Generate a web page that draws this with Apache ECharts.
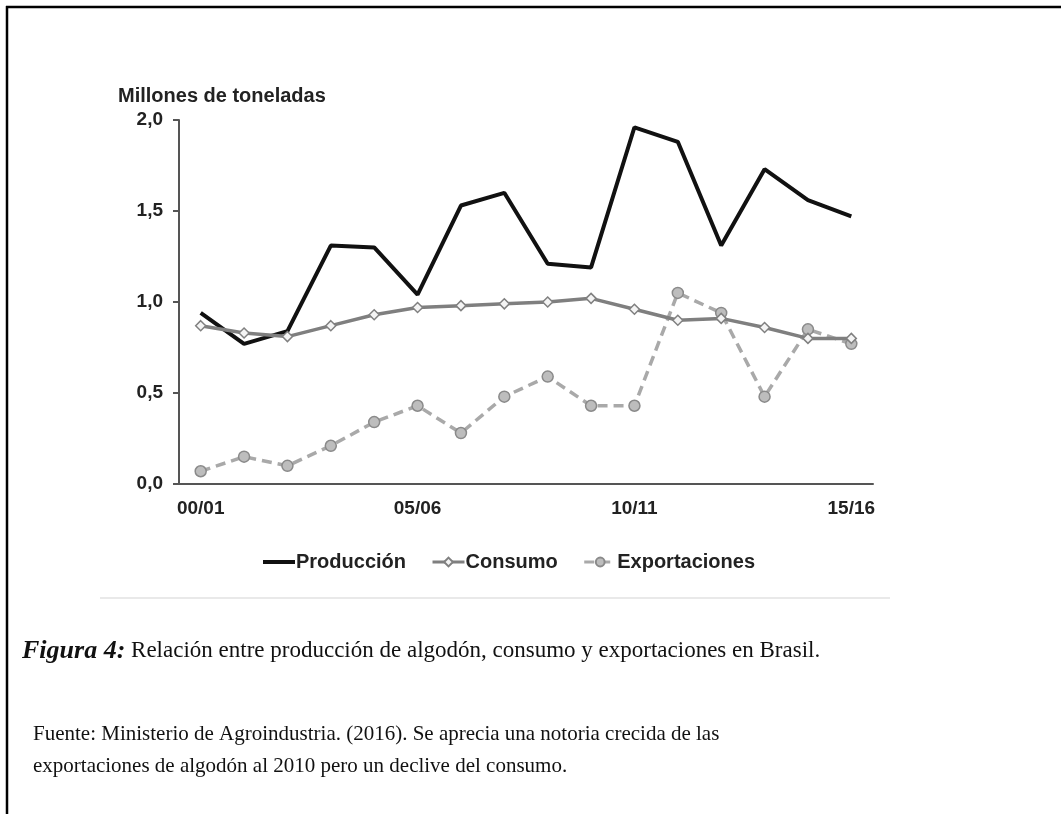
<!DOCTYPE html>
<html>
<head>
<meta charset="utf-8">
<script src="https://cdn.jsdelivr.net/npm/echarts@6/dist/echarts.min.js"></script>
<style>
  html, body { margin: 0; padding: 0; background: #fff; }
  #main { width: 1061px; height: 814px; }
</style>
</head>
<body>
<div id="main"></div>
<script>
// campañas 00/01 ... 15/16
const temporadas = ['00/01', '01/02', '02/03', '03/04', '04/05', '05/06', '06/07', '07/08',
  '08/09', '09/10', '10/11', '11/12', '12/13', '13/14', '14/15', '15/16'];
const produccion = [0.94, 0.77, 0.84, 1.31, 1.30, 1.04, 1.53, 1.60, 1.21, 1.19, 1.96, 1.88, 1.31, 1.73, 1.56, 1.47];
const consumo = [0.87, 0.83, 0.81, 0.87, 0.93, 0.97, 0.98, 0.99, 1.00, 1.02, 0.96, 0.90, 0.91, 0.86, 0.80, 0.80];
const exportaciones = [0.07, 0.15, 0.10, 0.21, 0.34, 0.43, 0.28, 0.48, 0.59, 0.43, 0.43, 1.05, 0.94, 0.48, 0.85, 0.77];
const yTicks = [0, 0.5, 1.0, 1.5, 2.0];

const chart = echarts.init(document.getElementById('main'));

const sans = 'Arial, "Liberation Sans", sans-serif';
const serif = '"Times New Roman", "Liberation Serif", serif';

const option = {
  animation: false,
  backgroundColor: '#fff',
  title: {
    text: 'Millones de toneladas',
    left: 113,
    top: 81,
    textStyle: { fontFamily: sans, fontSize: 20, fontWeight: 'bold', color: '#222' }
  },
  legend: {
    left: 256,
    top: 547,
    itemWidth: 32,
    itemHeight: 11,
    itemGap: 25,
    textStyle: { fontFamily: sans, fontSize: 20, fontWeight: 'bold', color: '#222', padding: [0, 0, 0, -4] },
    data: [
      // la línea de producción no lleva marcador
      { name: 'Producción', itemStyle: { opacity: 0 }, lineStyle: { width: 4 } },
      { name: 'Consumo', lineStyle: { width: 3 } },
      { name: 'Exportaciones', lineStyle: { width: 3 } }
    ]
  },
  grid: { left: 179, right: 188, top: 120, bottom: 330 },
  xAxis: {
    type: 'category',
    data: temporadas,
    boundaryGap: true,
    axisLine: { lineStyle: { color: '#555', width: 2 } },
    axisTick: { interval: 4, length: 6, lineStyle: { color: '#555', width: 2 } },
    axisLabel: {
      interval: 4, margin: 15,
      fontFamily: sans, fontSize: 19, fontWeight: 'bold', color: '#222'
    },
    splitLine: { show: false }
  },
  yAxis: {
    type: 'value',
    min: yTicks[0],
    max: yTicks[yTicks.length - 1],
    interval: 0.5,
    axisLine: { show: true, lineStyle: { color: '#555', width: 2 } },
    axisTick: { show: true, length: 6, lineStyle: { color: '#555', width: 2 } },
    axisLabel: {
      margin: 16,
      fontFamily: sans, fontSize: 19, fontWeight: 'bold', color: '#222',
      formatter: v => v.toFixed(1).replace('.', ',')
    },
    splitLine: { show: false }
  },
  series: [
    {
      name: 'Producción',
      type: 'line',
      data: produccion,
      symbol: 'none',
      itemStyle: { color: '#111' },
      lineStyle: { color: '#111', width: 4 },
      z: 3
    },
    {
      name: 'Consumo',
      type: 'line',
      data: consumo,
      symbol: 'diamond',
      symbolSize: 10,
      showAllSymbol: true,
      itemStyle: { color: '#f4f4f4', borderColor: '#808080', borderWidth: 1.5 },
      lineStyle: { color: '#7f7f7f', width: 3.5 },
      z: 4
    },
    {
      name: 'Exportaciones',
      type: 'line',
      data: exportaciones,
      symbol: 'circle',
      symbolSize: 11,
      showAllSymbol: true,
      itemStyle: { color: '#bdbdbd', borderColor: '#8a8a8a', borderWidth: 1.5 },
      lineStyle: { color: '#a9a9a9', width: 3.5, type: [10, 6] },
      z: 2
    }
  ],
  graphic: [
    // marco de la figura
    { type: 'line', shape: { x1: 6, y1: 7, x2: 1061, y2: 7 }, style: { stroke: '#000', lineWidth: 2.5 } },
    { type: 'line', shape: { x1: 7, y1: 6, x2: 7, y2: 814 }, style: { stroke: '#000', lineWidth: 2.5 } },
    // borde inferior de la imagen del gráfico
    { type: 'line', shape: { x1: 100, y1: 598, x2: 890, y2: 598 }, style: { stroke: '#e2e2e2', lineWidth: 1.5 } },
    {
      type: 'text', left: 22, top: 638,
      style: {
        text: '{b|Figura 4:} Relación entre producción de algodón, consumo y exportaciones en Brasil.',
        font: '23px ' + serif, fill: '#111',
        rich: { b: { fontFamily: serif, fontSize: 26, fontWeight: 'bold', fontStyle: 'italic', fill: '#111' } }
      }
    },
    {
      type: 'text', left: 33, top: 718,
      style: {
        text: 'Fuente: Ministerio de Agroindustria. (2016). Se aprecia una notoria crecida de las\nexportaciones de algodón al 2010 pero un declive del consumo.',
        font: '21px ' + serif, fill: '#111', lineHeight: 32
      }
    }
  ]
};

chart.setOption(option);
</script>
</body>
</html>
